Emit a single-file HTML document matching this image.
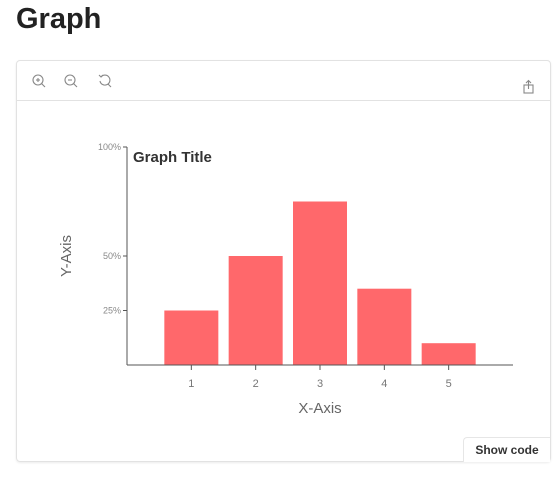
<!DOCTYPE html>
<html><head><meta charset="utf-8"><style>
body{margin:0;width:560px;height:486px;background:#fff;font-family:"Liberation Sans",sans-serif;position:relative;overflow:hidden}
h1{position:absolute;left:16px;top:3px;margin:0;font-size:29px;font-weight:bold;color:#222}
.card{position:absolute;left:16px;top:60px;width:533px;height:400px;border:1px solid #e2e2e2;border-radius:4px;box-shadow:0 1px 2px rgba(0,0,0,.08)}
.bar{position:absolute;left:0;top:0;width:533px;height:39px;border-bottom:1px solid #e2e2e2}
.btn{position:absolute;left:446px;top:376px;width:86px;height:24px;border:1px solid #e6e6e6;border-right:none;border-bottom:none;border-radius:4px 0 0 0;font-size:12px;font-weight:bold;color:#333;text-align:center;line-height:24px;background:#fff}
</style></head><body>
<h1>Graph</h1>
<div class="card">
<div class="bar">
<svg width="533" height="39" style="position:absolute;left:0;top:0" fill="none" stroke="#888" stroke-width="1.1">
<g><circle cx="21" cy="19" r="5"/><line x1="24.5" y1="22.5" x2="28" y2="26"/><line x1="19" y1="19" x2="23" y2="19"/><line x1="21" y1="17" x2="21" y2="21"/></g>
<g><circle cx="53" cy="19" r="5"/><line x1="56.5" y1="22.5" x2="60" y2="26"/><line x1="51" y1="19" x2="55" y2="19"/></g>
<g><path d="M84 16 A5 5 0 1 1 83 20"/><line x1="91" y1="23" x2="94" y2="26"/><polyline points="82,14 84,16 86,14"/></g>
<g><rect x="507" y="24" width="9" height="8"/><line x1="511.5" y1="20" x2="511.5" y2="28"/><polyline points="509,22 511.5,19.5 514,22"/></g>
</svg></div>
<div class="btn">Show code</div>
</div>
<svg id="chart" width="560" height="486" style="position:absolute;left:0;top:0" font-family="Liberation Sans, sans-serif"></svg>
<script>
const categories=["1","2","3","4","5"];
const values=[25,50,75,35,10];
const yTicks=[25,50,100];
const yTickLabels=["25%","50%","100%"];
const svg=document.getElementById('chart');
const NS='http://www.w3.org/2000/svg';
const x0=127,x1=513,y0=365,y1=147;
const band=(x1-x0)/(categories.length+1);
const xs=i=>x0+band*(i+1);
const ys=v=>y0-(v/100)*(y0-y1);
function mk(t,a,txt){const e=document.createElementNS(NS,t);for(const k in a)e.setAttribute(k,a[k]);if(txt!=null)e.textContent=txt;svg.appendChild(e);return e;}
values.forEach((v,i)=>{
const r=mk('rect',{x:xs(i)-27,y:ys(v),width:54,height:y0-ys(v),fill:'#ff686b'});


const t=mk('line',{x1:xs(i),x2:xs(i),y1:y0,y2:y0+5,stroke:'#555'});


const l=mk('text',{x:xs(i),y:y0+22,'text-anchor':'middle','font-size':11,fill:'#777'},categories[i]);


});
yTicks.forEach((v,i)=>{
const t=mk('line',{x1:x0-4,x2:x0,y1:ys(v),y2:ys(v),stroke:'#555'});


const l=mk('text',{x:x0-6,y:ys(v)+3,'text-anchor':'end','font-size':9,fill:'#888'},yTickLabels[i]);


});
const ya=mk('line',{x1:x0,x2:x0,y1:y1,y2:y0,stroke:'#555'});


const xa=mk('line',{x1:x0,x2:x1,y1:y0,y2:y0,stroke:'#555'});


const tt=mk('text',{x:133,y:162,'font-size':15,'font-weight':'bold',fill:'#333'},'Graph Title');


const xt=mk('text',{x:320,y:413,'text-anchor':'middle','font-size':15,fill:'#666'},'X-Axis');


const yt=mk('text',{x:0,y:0,'text-anchor':'middle','font-size':15,fill:'#666',transform:'translate(71,256) rotate(-90)'},'Y-Axis');


</script>
</body></html>
